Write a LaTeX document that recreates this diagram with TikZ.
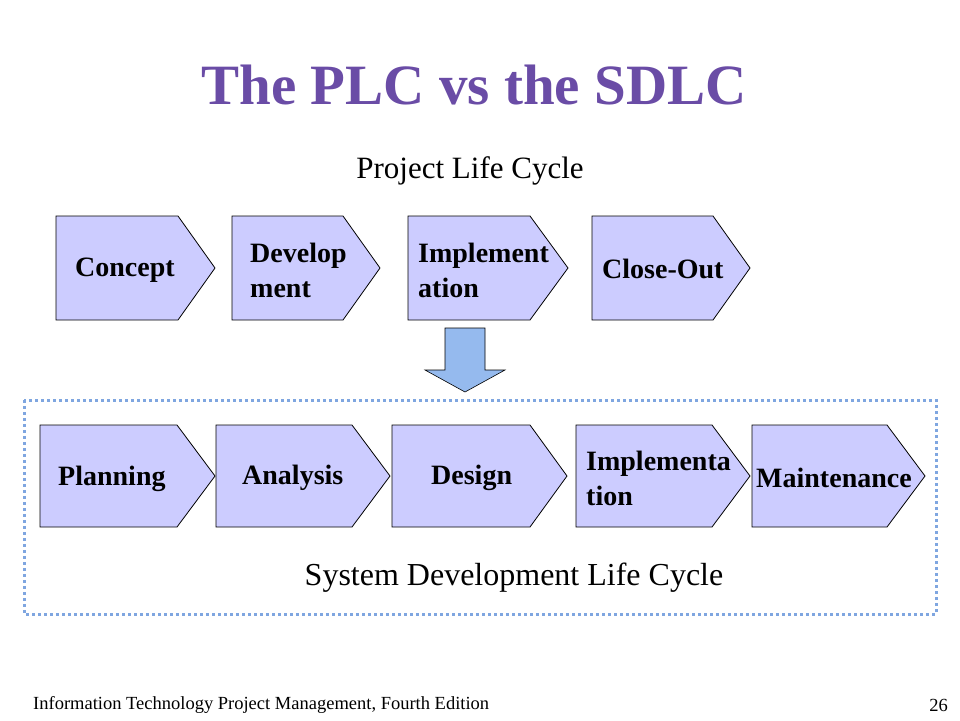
\documentclass[tikz,border=0pt]{standalone}
\usepackage{fontspec}
\setmainfont{Liberation Serif}
\begin{document}
\begin{tikzpicture}[x=1pt,y=-1pt,
  pent/.style={draw=black,fill=lavbox,line width=0.8pt},
  lbl/.style={font=\bfseries\fontsize{28}{34}\selectfont,align=left,anchor=west,inner sep=0pt}]
\definecolor{lavbox}{HTML}{CCCCFF}
\definecolor{ttl}{HTML}{6A4CA6}
\definecolor{dotb}{HTML}{7FA6E0}
\definecolor{arrb}{HTML}{95BAEE}
\useasboundingbox (0,0) rectangle (960,720);
\node[font=\bfseries\fontsize{57}{62}\selectfont,text=ttl] (title) at (474,85) {The PLC vs the SDLC};
\node[font=\fontsize{31}{36}\selectfont] (plc) at (470,171) {Project Life Cycle};
% top pentagons
\foreach \a/\b/\c in {56/178/215,232/343/380,408/530/568,592/713/750}{
  \draw[pent] (\a,216) -- (\b,216) -- (\c,268) -- (\b,320) -- (\a,320) -- cycle;}
\node[lbl] (c1) at (75,270) {Concept};
\node[lbl] (c2) at (250,270) {Develop\\[1pt]ment};
\node[lbl] (c3) at (418,270) {Implement\\[1pt]ation};
\node[lbl] (c4) at (602,269) {Close-Out};
% down arrow
\draw[draw=black,fill=arrb,line width=0.6pt] (445,328) -- (485,328) -- (485,370) -- (505,370) -- (465,392) -- (425,370) -- (445,370) -- cycle;
% dotted frame
\draw[dotb,line width=3pt,dash pattern=on 3pt off 3pt] (24,400) rectangle (936,614);
% bottom pentagons
\foreach \a/\b/\c in {40/177/215,216/352/390,392/530/567,576/712/750,752/887/925}{
  \draw[pent] (\a,425) -- (\b,425) -- (\c,476) -- (\b,527) -- (\a,527) -- cycle;}
\node[lbl] (s1) at (58,479) {Planning};
\node[lbl] (s2) at (242,478) {Analysis};
\node[lbl] (s3) at (431,478) {Design};
\node[lbl] (s4) at (586,478) {Implementa\\[1pt]tion};
\node[lbl] (s5) at (756,478) {Maintenance};
\node[font=\fontsize{32}{36}\selectfont] (sdlc) at (514,578) {System Development Life Cycle};
\node[font=\fontsize{18.5}{22}\selectfont,anchor=west,inner sep=0pt] (foot) at (33,705) {Information Technology Project Management, Fourth Edition};
\node[font=\fontsize{18.5}{22}\selectfont,anchor=east,inner sep=0pt] (pg) at (948,705) {26};
\end{tikzpicture}
\end{document}
